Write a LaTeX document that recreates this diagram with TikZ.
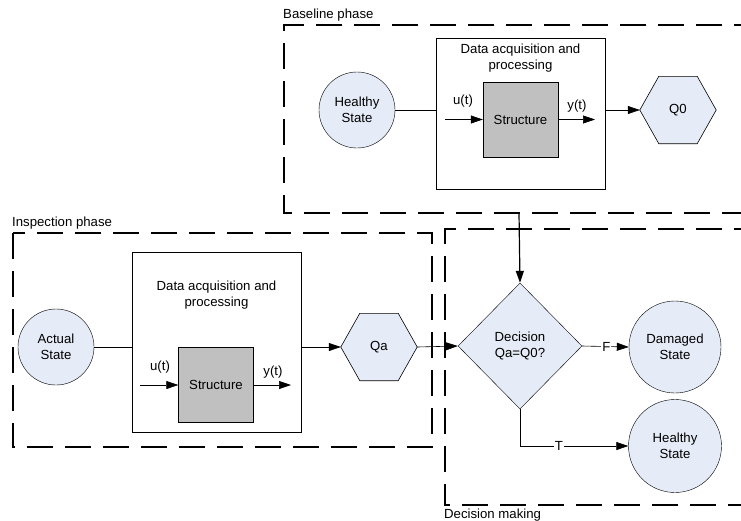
\documentclass[tikz,border=0pt]{standalone}
\usepackage{fontspec}
\setmainfont{Liberation Sans}
\usetikzlibrary{shapes.geometric,arrows.meta,calc}
\definecolor{statefill}{RGB}{230,236,247}
\definecolor{structfill}{RGB}{192,192,192}
\tikzset{
  every node/.style={font=\fontsize{13.2}{15.5}\selectfont},
  phase/.style={draw, line width=1.8pt, dash pattern=on 26pt off 12pt},
  state/.style={circle, draw, fill=statefill, align=center, inner sep=0pt},
  hexframe/.style={minimum width=76pt, minimum height=67pt, inner sep=0pt},
  hexshape/.style={draw, fill=statefill, line width=0.6pt},
  procbox/.style={draw, minimum width=169pt, inner sep=0pt},
  structbox/.style={draw, fill=structfill, minimum width=75pt, minimum height=75pt, inner sep=0pt},
  decision/.style={diamond, draw, fill=statefill, align=center, minimum width=124pt, minimum height=126pt, inner sep=0pt},
  arr/.style={-{Triangle[length=12pt,width=8pt]}},
  conn/.style={line width=0.6pt},
  phaselabel/.style={anchor=base west, inner sep=0pt}
}
\begin{document}
\begin{tikzpicture}[x=1pt,y=-1pt]
\clip (0,0) rectangle (741,520);
\fill[white] (0,0) rectangle (741,520);

% ---- phase frames
\draw[phase] (760,25) -- (284,25) -- (284,213) -- (760,213);
\node[phaselabel] (lblbase) at (283,18) {Baseline phase};
\draw[phase] (13,233) rectangle (432,447);
\node[phaselabel] (lblinsp) at (12,226) {Inspection phase};
\draw[phase] (760,229) -- (445,229) -- (445,505) -- (760,505);
\node[phaselabel] (lbldec) at (444,518) {Decision making};

% ---- baseline phase
\node[state, minimum size=76pt] (h1) at (357,110) {Healthy\\State};
\node[procbox, minimum height=151pt] (p1) at (520.5,113.5) {};
\node[align=center] (t1) at (520.5,58) {Data acquisition and\\processing};
\node[structbox] (s1) at (520.5,119.5) {Structure};
\node[hexframe] (q0) at (678,110) {};
\draw[hexshape] (q0.west) -- ($(q0.north west)+(19,0)$) -- ($(q0.north east)+(-19,0)$)
  -- (q0.east) -- ($(q0.south east)+(-19,0)$) -- ($(q0.south west)+(19,0)$) -- cycle;
\node (q0t) at (q0) {Q0};
\coordinate (u1) at (445,119.5);
\coordinate (y1) at (595,119.5);
\draw[conn] (h1) -- (h1 -| p1.west);
\draw[conn,arr] (u1) -- (s1.west);
\draw[conn,arr] (s1.east) -- (y1);
\node (ul1) at (463,101) {u(t)};
\node (yl1) at (577,106) {y(t)};
\draw[conn,arr] (q0.west -| p1.east) -- (q0.west);

% ---- inspection phase
\node[state, minimum size=76pt] (a) at (56,347) {Actual\\State};
\node[procbox, minimum height=180pt] (p2) at (216.5,342) {};
\node[align=center] (t2) at (216.5,295) {Data acquisition and\\processing};
\node[structbox] (s2) at (216,385) {Structure};
\node[hexframe] (qa) at (379,347) {};
\draw[hexshape] (qa.west) -- ($(qa.north west)+(19,0)$) -- ($(qa.north east)+(-19,0)$)
  -- (qa.east) -- ($(qa.south east)+(-19,0)$) -- ($(qa.south west)+(19,0)$) -- cycle;
\node (qat) at (qa) {Qa};
\coordinate (u2) at (140,385);
\coordinate (y2) at (291,385);
\draw[conn] (a) -- (a -| p2.west);
\draw[conn,arr] (u2) -- (s2.west);
\draw[conn,arr] (s2.east) -- (y2);
\node (ul2) at (160,367) {u(t)};
\node (yl2) at (273,372) {y(t)};
\draw[conn,arr] (qa.west -| p2.east) -- (qa.west);

% ---- decision making
\node[decision] (dec) at (520,346) {Decision\\Qa=Q0?};
\node[state, minimum size=92pt] (dmg) at (675,347) {Damaged\\State};
\node[state, minimum size=93pt] (h2) at (675,446) {Healthy\\State};
\coordinate (bout) at (519,213);
\draw[line width=1.2pt,arr] (bout) -- (dec.north);
\draw[conn,arr] (qa.east) -- (dec.west);
\draw[conn,arr] (dec.east) -- node[fill=white, inner sep=1pt, pos=0.52] (fl) {F} (dmg.west);
\draw[conn,arr] (dec.south) |- node[fill=white, inner sep=1pt, pos=0.68] (tl) {T} (h2.west);
\end{tikzpicture}
\end{document}
